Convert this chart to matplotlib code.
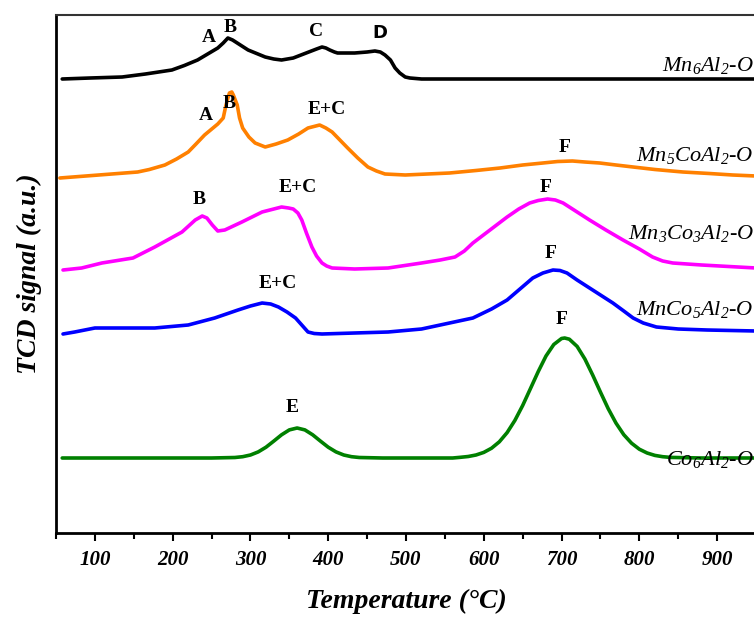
"""
H2-TPR profiles of the Mn/Co/Al mixed oxides
"""

import matplotlib
matplotlib.use("Agg")
import matplotlib.pyplot as plt
from matplotlib.ticker import MultipleLocator

plt.rcParams['font.family'] = 'Liberation Serif'
plt.rcParams['mathtext.fontset'] = 'custom'
plt.rcParams['mathtext.rm'] = 'Liberation Serif:italic'
plt.rcParams['mathtext.it'] = 'Liberation Serif:italic'

# Temperatures (C) and TCD signal (a.u., traces already offset)
T_MN6 = [58, 94, 135, 165, 199, 215, 232, 245, 258, 265, 271, 277, 283, 297, 319,
         330, 340, 355, 375, 385, 392, 397, 402, 408, 412, 434, 450, 460, 467, 473,
         480, 486, 492, 499, 505, 520, 627, 950]
S_MN6 = [454, 455, 456, 459, 463, 467.5, 473, 479, 485, 490, 495, 493, 490, 483, 476,
         474, 473, 475, 481, 484, 486, 485, 483, 481, 480, 480, 481, 482, 481, 478,
         473, 465, 460, 456, 455, 454, 454, 454]

T_MN5CO = [55, 155, 170, 190, 205, 220, 230, 241, 258, 265, 268, 271, 273, 276, 278,
           283, 286, 290, 298, 306, 319, 333, 348, 362, 374, 389, 397, 405, 415, 425,
           438, 451, 462, 473, 499, 556, 590, 621, 650, 676, 695, 714, 730, 749, 770,
           792, 820, 856, 890, 920, 950]
S_MN5CO = [355, 361, 363.5, 368, 374, 381, 389, 398, 409, 415, 426, 435, 440, 441, 438,
           428, 415, 405, 396, 390, 386, 389, 393, 399, 405, 408, 405, 401, 393, 385,
           375, 366, 362, 359, 358, 360, 362.5, 365, 368, 370, 371.5, 372, 371, 370, 368,
           366, 363.5, 361, 359.5, 358, 357]

T_MN3CO3 = [59, 83, 109, 149, 177, 212, 229, 238, 244, 251, 258, 267, 289, 315, 340,
            349, 355, 361, 366, 372, 379, 385, 392, 398, 405, 434, 477, 520, 544, 563,
            575, 586, 608, 630, 645, 659, 670, 682, 692, 702, 720, 736, 757, 779, 800,
            817, 830, 843, 880, 950]
S_MN3CO3 = [263, 265, 270, 275, 286, 301, 313, 317, 315, 308, 302, 303, 311, 321, 326,
            325, 324, 320, 313, 300, 286, 277, 270, 267, 265, 264, 265, 270, 273, 276,
            282, 290, 303, 316, 324, 330, 332.5, 334, 333, 330, 321, 313, 303, 293, 284,
            276, 272, 270, 268, 265]

T_MNCO5 = [59, 74, 100, 135, 177, 220, 254, 284, 300, 315, 326, 336, 347, 358, 366,
           374, 382, 392, 434, 477, 520, 544, 586, 610, 630, 648, 663, 676, 689, 698,
           707, 720, 736, 750, 766, 780, 792, 805, 822, 850, 887, 950]
S_MNCO5 = [199, 201, 205, 205, 205, 208, 215, 223, 227, 230, 229, 226, 221, 215, 208,
           201, 199.5, 199, 200, 201, 204, 208, 215, 224, 233, 245, 255, 260, 263, 262.5,
           260, 253, 245, 238, 230, 222, 215, 210, 206, 204, 203, 202]

T_CO6 = [58, 150, 250, 280, 290, 300, 310, 320, 330, 340, 350, 360, 370, 380, 390,
         400, 410, 420, 430, 440, 470, 520, 560, 570, 580, 590, 600, 610, 620, 630,
         640, 650, 660, 670, 680, 690, 700, 704, 710, 720, 730, 740, 750, 760, 770,
         780, 790, 800, 810, 820, 830, 840, 880, 950]
S_CO6 = [75, 75, 75, 75.5, 76.3, 78, 81.1, 85.8, 91.9, 98.2, 103.1, 105, 103.1, 98.2, 91.9,
         85.8, 81.1, 78, 76.3, 75.5, 75, 75, 75, 75.7, 76.5, 78, 80.6, 84.8, 91.2, 100.4,
         112.6, 127.5, 144.4, 161.4, 177, 188.5, 194.5, 195, 193.8, 186.6, 174, 158, 140.9, 124.3, 109.9,
         98.3, 89.8, 83.8, 80, 77.6, 76.3, 75.6, 75, 75]

SERIES = [
    (T_MN6, S_MN6, 'black', 'Mn$_6$Al$_2$-O'),
    (T_MN5CO, S_MN5CO, '#ff8000', 'Mn$_5$CoAl$_2$-O'),
    (T_MN3CO3, S_MN3CO3, '#ff00ff', 'Mn$_3$Co$_3$Al$_2$-O'),
    (T_MNCO5, S_MNCO5, '#0000ff', 'MnCo$_5$Al$_2$-O'),
    (T_CO6, S_CO6, '#008000', 'Co$_6$Al$_2$-O'),
]

# label text, temperature, signal (positions of the peak markers)
PEAK_LABELS = [
    ('A', 247, 496), ('B', 274, 505), ('C', 384, 501),
    ('A', 243, 417), ('B', 272, 430), ('E+C', 398, 424), ('F', 704, 386),
    ('B', 234, 333), ('E+C', 361, 345), ('F', 680, 345),
    ('E+C', 335, 249), ('F', 686, 279),
    ('E', 353, 125), ('F', 700, 214),
]
NAME_Y = [468, 378, 300, 223, 73]

fig = plt.figure(figsize=(7.54, 6.18), dpi=100)
ax = fig.add_axes([56 / 754, 85 / 618, 700 / 754, 518 / 618])

for (t, s, color, name), ny in zip(SERIES, NAME_Y):
    ax.plot(t, s, color=color, lw=2.6, solid_joinstyle='round', solid_capstyle='round')
    ax.text(947, ny, name, ha='right', va='center', fontsize=16, style='italic')

for txt, t, s in PEAK_LABELS:
    ax.text(t, s, txt, ha='center', va='center', fontsize=14, fontweight='bold')
# the D label is in a sans font in the original
ax.text(466, 500, 'D', ha='center', va='center', fontsize=13, fontweight='bold',
        family='DejaVu Sans')

ax.set_xlim(50, 950)
ax.set_ylim(0, 518)
ax.set_yticks([])
ax.xaxis.set_major_locator(MultipleLocator(100))
ax.xaxis.set_minor_locator(MultipleLocator(50))
ax.set_xticks(range(100, 901, 100))
ax.tick_params(axis='x', which='major', direction='out', length=6, width=1.5, pad=6)
ax.tick_params(axis='x', which='minor', direction='out', length=4, width=1.5)
for lab in ax.get_xticklabels():
    lab.set_fontsize(15)
    lab.set_fontweight('bold')
    lab.set_fontstyle('italic')
for side in ['left', 'bottom']:
    ax.spines[side].set_linewidth(2)
ax.spines['top'].set_linewidth(1.5)
ax.spines['top'].set_color('#333333')

ax.set_xlabel('Temperature (°C)', fontsize=20, fontweight='bold', style='italic',
              labelpad=14)
ax.set_ylabel('TCD signal (a.u.)', fontsize=20, fontweight='bold', style='italic',
              labelpad=10)

fig.savefig('out.png', dpi=100)
